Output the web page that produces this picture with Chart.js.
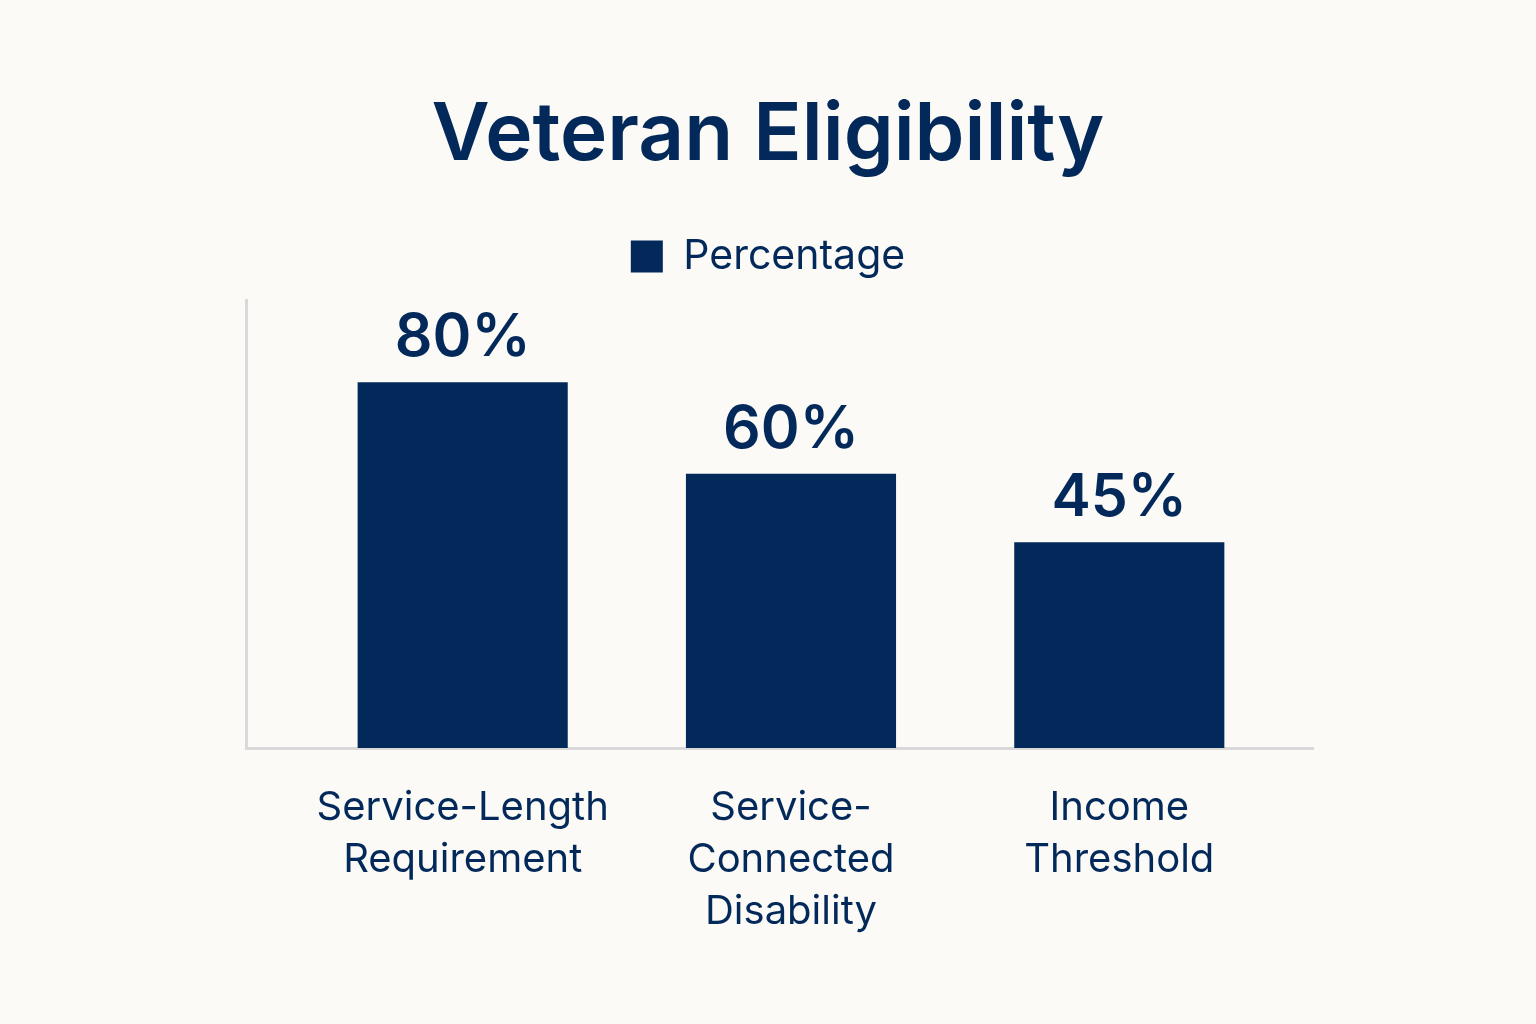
<!DOCTYPE html>
<html>
<head>
<meta charset="utf-8">
<script src="https://cdn.jsdelivr.net/npm/chart.js@4.4.1/dist/chart.umd.min.js"></script>
<style>
  html, body { margin: 0; padding: 0; background: #fbfaf6; }
  #wrap { width: 1536px; height: 1024px; }
</style>
</head>
<body>
<div id="wrap"><canvas id="eligChart" width="1536" height="1024"></canvas></div>
<script>
// chart data
const categories = [
    ['Service-Length', 'Requirement'],
    ['Service-', 'Connected', 'Disability'],
    ['Income', 'Threshold']
];
const percentages = [80, 60, 45];
const seriesName = 'Percentage';

const navy = '#03295a';
const fontName = 'Inter, "Noto Sans", sans-serif';

// value labels above each bar
const barValueLabels = {
    id: 'barValueLabels',
    afterDatasetsDraw(chart) {
        const ctx = chart.ctx;
        const meta = chart.getDatasetMeta(0);
        ctx.save();
        ctx.fillStyle = navy;
        ctx.font = '600 59px ' + fontName;
        ctx.textAlign = 'center';
        ctx.textBaseline = 'alphabetic';
        meta.data.forEach((bar, i) => {
            ctx.fillText(percentages[i] + '%', bar.x, bar.y - 26);
        });
        ctx.restore();
    }
};

// extra room under the legend
const legendSpacing = {
    id: 'legendSpacing',
    beforeInit(chart) {
        const origFit = chart.legend.fit;
        chart.legend.fit = function () {
            origFit.bind(chart.legend)();
            this.height += 13;
        };
    }
};

const ctx = document.getElementById('eligChart').getContext('2d');
new Chart(ctx, {
    type: 'bar',
    data: {
        datasets: [{
            label: seriesName,
            data: percentages.map((v, i) => ({ x: i, y: v })),
            backgroundColor: navy,
            borderWidth: 0,
            barPercentage: 1,
            categoryPercentage: 0.64
        }]
    },
    options: {
        responsive: false,
        animation: false,
        devicePixelRatio: 1,
        layout: {
            padding: { left: 223, right: 223, top: 88, bottom: 52 }
        },
        plugins: {
            title: {
                display: true,
                text: 'Veteran Eligibility',
                color: navy,
                font: { family: fontName, size: 80, weight: '600' },
                padding: { top: 0, bottom: 4 }
            },
            legend: {
                display: true,
                labels: {
                    color: navy,
                    font: { family: fontName, size: 41 },
                    boxWidth: 32,
                    boxHeight: 32,
                    padding: 48
                }
            },
            tooltip: { enabled: false }
        },
        scales: {
            x: {
                type: 'linear',
                offset: false,
                min: -0.66,
                max: 2.59,
                grid: { display: false, drawTicks: false, offset: false },
                border: { display: true, color: '#d9d9d9', width: 3 },
                afterBuildTicks: axis => {
                    axis.ticks = categories.map((c, i) => ({ value: i }));
                },
                ticks: {
                    color: navy,
                    font: { family: fontName, size: 40, lineHeight: 1.3 },
                    padding: 34,
                    maxRotation: 0,
                    autoSkip: false,
                    callback: value => categories[value]
                }
            },
            y: {
                min: 0,
                max: 98,
                afterFit: axis => { axis.width = 23; },
                grid: { display: false, drawTicks: false },
                border: { display: true, color: '#d9d9d9', width: 3 },
                ticks: { display: false }
            }
        }
    },
    plugins: [barValueLabels, legendSpacing]
});
</script>
</body>
</html>
